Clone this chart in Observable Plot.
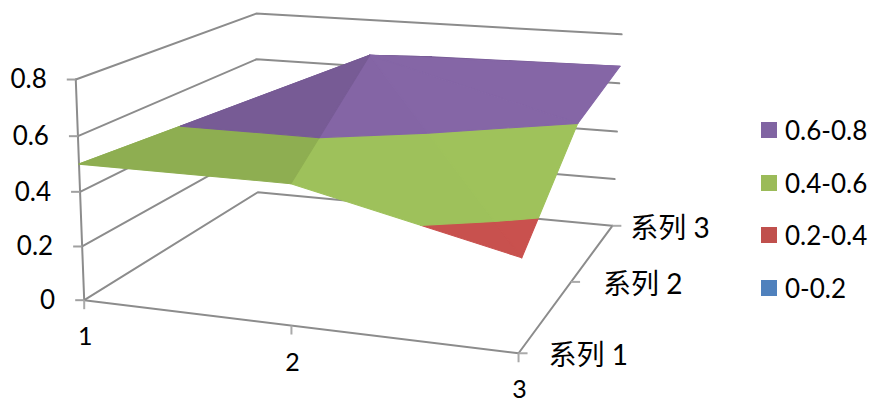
<!DOCTYPE html>
<html><head><meta charset="utf-8">
<script src="https://cdn.jsdelivr.net/npm/d3@7"></script>
<script src="https://cdn.jsdelivr.net/npm/@observablehq/plot@0.6"></script>
<style>
html,body{margin:0;padding:0;background:#fff;overflow:hidden}
#chart{position:relative;width:871px;height:402px}
#legend{position:absolute;left:761px;top:104px;font:26px Lato,"Noto Sans",sans-serif;color:#000}
#legend div{display:flex;align-items:center;height:52.6px}
#legend i{display:block;width:16px;height:16px;margin-right:8px}
</style></head>
<body><div id="chart"><div id="legend"></div></div>
<script>
// ---- data ----
const categories = [1, 2, 3];
const seriesNames = ["系列 1", "系列 2", "系列 3"];
const valueTicks = [0, 0.2, 0.4, 0.6, 0.8];
const series1 = [0.5, 0.5, 0.325];
const series2 = [0.4, 0.8, 0.6];
const series3 = [0.4, 0.66, 0.67];
const bandNames = ["0-0.2", "0.2-0.4", "0.4-0.6", "0.6-0.8"];
const bandLimits = [0, 0.2, 0.4, 0.6, 0.8];

// ---- look ----
const legendColors = ["#4F81BD", "#C0504D", "#9BBB59", "#8064A2"];
const surfaceColors = ["#4F81BD", "#C9514E", "#9FC25B", "#8566A6"];
const grey = "#8c8c8c";
const font = 'Lato,"Noto Sans CJK SC",sans-serif';
const fontSize = 26;

// ---- camera: where the chart box's corners sit in the 871x402 frame ----
const cameraAnchors = [
  [1, 1, 0, 84, 299.5], [3, 1, 0, 518, 353], [1, 3, 0, 257, 192], [3, 3, 0, 612, 225],
  [1, 1, 0.8, 75, 79], [1, 3, 0.8, 256, 13], [3, 3, 0.8, 621, 34]
];
function solve(A, b) {
  const n = b.length, M = A.map((r, i) => [...r, b[i]]);
  for (let i = 0; i < n; i++) {
    let p = i; for (let k = i + 1; k < n; k++) if (Math.abs(M[k][i]) > Math.abs(M[p][i])) p = k;
    [M[i], M[p]] = [M[p], M[i]];
    for (let k = 0; k < n; k++) if (k !== i) {
      const f = M[k][i] / M[i][i];
      for (let j = i; j <= n; j++) M[k][j] -= f * M[i][j];
    }
  }
  return M.map((r, i) => r[n] / r[i]);
}
const unit = (c, s, v) => [(c - 1) / 2, (s - 1) / 2, v / 0.8];
const rowsEq = [], rhs = [];
for (const [c, s, v, X, Y] of cameraAnchors) {
  const [u, w, h] = unit(c, s, v);
  rowsEq.push([1, u, w, h, 0, 0, 0, 0, -X * u, -X * w, -X * h]); rhs.push(X);
  rowsEq.push([0, 0, 0, 0, 1, u, w, h, -Y * u, -Y * w, -Y * h]); rhs.push(Y);
}
const ATA = d3.range(11).map(i => d3.range(11).map(j => d3.sum(rowsEq, r => r[i] * r[j])));
const ATb = d3.range(11).map(i => d3.sum(rowsEq, (r, k) => r[i] * rhs[k]));
const H = solve(ATA, ATb);
function project(c, s, v) {
  const [u, w, h] = unit(c, s, v);
  const d = 1 + H[8] * u + H[9] * w + H[10] * h;
  return { x: (H[0] + H[1] * u + H[2] * w + H[3] * h) / d, y: (H[4] + H[5] * u + H[6] * w + H[7] * h) / d };
}

// ---- surface: triangles back to front, each clipped into the value bands ----
const table = [series1, series2, series3];
const vertex = (ci, si) => ({ c: categories[ci], s: si + 1, v: table[si][ci] });
const triangles = [
  { corners: [[0, 1], [1, 1], [1, 2]], shade: 0.9 },
  { corners: [[0, 1], [1, 2], [0, 2]], shade: 0.9 },
  { corners: [[1, 1], [2, 2], [1, 2]], shade: 0.91 },
  { corners: [[1, 1], [2, 1], [2, 2]], shade: 1 },
  { corners: [[0, 0], [1, 1], [0, 1]], shade: 0.9 },
  { corners: [[1, 0], [2, 0], [1, 1]], shade: 0.995 },
  { corners: [[2, 0], [2, 1], [1, 1]], shade: 1 },
  { corners: [[0, 0], [1, 0], [1, 1]], shade: 0.895 }
];
function clip(poly, limit, keepAbove) {
  const inside = p => keepAbove ? p.v >= limit : p.v <= limit, out = [];
  poly.forEach((a, i) => {
    const b = poly[(i + 1) % poly.length];
    if (inside(a)) out.push(a);
    if (inside(a) !== inside(b)) {
      const t = (limit - a.v) / (b.v - a.v);
      out.push({ c: a.c + t * (b.c - a.c), s: a.s + t * (b.s - a.s), v: limit });
    }
  });
  return out;
}
const facets = [];
triangles.forEach((tri, ti) => {
  const poly = tri.corners.map(([ci, si]) => vertex(ci, si));
  surfaceColors.forEach((col, b) => {
    const part = clip(clip(poly, bandLimits[b], true), bandLimits[b + 1], false);
    if (part.length < 3) return;
    const rgb = d3.rgb(col);
    const color = d3.rgb(rgb.r * tri.shade, rgb.g * tri.shade, rgb.b * tri.shade).formatHex();
    part.forEach(p => facets.push({ id: ti + "-" + b, color, ...project(p.c, p.s, p.v) }));
  });
});

// ---- frame ----
const [c0, c1] = d3.extent(categories), s0 = 1, s1 = seriesNames.length;
const walls = valueTicks.flatMap(v => [[c0, s0], [c0, s1], [c1, s1]]
  .map(([c, s]) => ({ id: "v" + v, ...project(c, s, v) })));
const floorEdges = [[c0, s0], [c1, s0], [c1, s1]].map(([c, s]) => ({ id: "floor", ...project(c, s, 0) }));
const axisEdge = [0, 0.8].map(v => ({ id: "axis", ...project(c0, s0, v) }));

const valueAnchors = valueTicks.map(v => ({ label: String(v), ...project(c0, s0, v) }));
const categoryAnchors = categories.map(c => ({ label: String(c), ...project(c, s0, 0) }));
const seriesGap = [30, 32, 18];
const seriesAnchors = seriesNames.map((label, i) => ({ label, gap: seriesGap[i], ...project(c1, i + 1, 0) }));

const line = {x: "x", y: "y", z: "id", stroke: grey, strokeWidth: 2};
const plot = Plot.plot({
  width: 871, height: 402, margin: 0,
  x: {domain: [0, 871], range: [0, 871], axis: null},
  y: {domain: [0, 402], range: [0, 402], axis: null},
  marks: [
    Plot.line(walls, line),
    Plot.line(floorEdges, line),
    Plot.line(axisEdge, line),
    Plot.link(valueAnchors, {x1: "x", y1: "y", x2: d => d.x - 9, y2: "y", stroke: "#a0a0a0", strokeWidth: 2}),
    Plot.link(categoryAnchors, {x1: "x", y1: "y", x2: "x", y2: d => d.y + 9, stroke: "#aaa", strokeWidth: 2}),
    Plot.link(seriesAnchors, {x1: "x", y1: "y", x2: d => d.x + 9, y2: "y", stroke: "#aaa", strokeWidth: 2}),
    Plot.line(facets, {x: "x", y: "y", z: "id", fill: "color", stroke: "color", strokeWidth: 1.1, curve: "linear-closed"}),
    Plot.text(valueAnchors, {x: "x", y: "y", text: "label", dx: -29, dy: 0.5, textAnchor: "end", fontSize, fontFamily: font, fill: "#000"}),
    Plot.text(categoryAnchors, {x: "x", y: "y", text: "label", dx: 1, dy: 37, textAnchor: "middle", fontSize: 25, fontFamily: font, fill: "#000"}),
    Plot.text(seriesAnchors, {x: d => d.x + d.gap, y: "y", text: "label", dy: 3, textAnchor: "start", fontSize: 28, fontFamily: font, fill: "#000"})
  ]
});
document.getElementById("chart").prepend(plot);

const legend = document.getElementById("legend");
d3.range(bandNames.length - 1, -1, -1).forEach(i => {
  const row = document.createElement("div");
  const sw = document.createElement("i");
  sw.style.background = legendColors[i];
  row.append(sw, document.createTextNode(bandNames[i]));
  legend.append(row);
});
</script></body></html>
